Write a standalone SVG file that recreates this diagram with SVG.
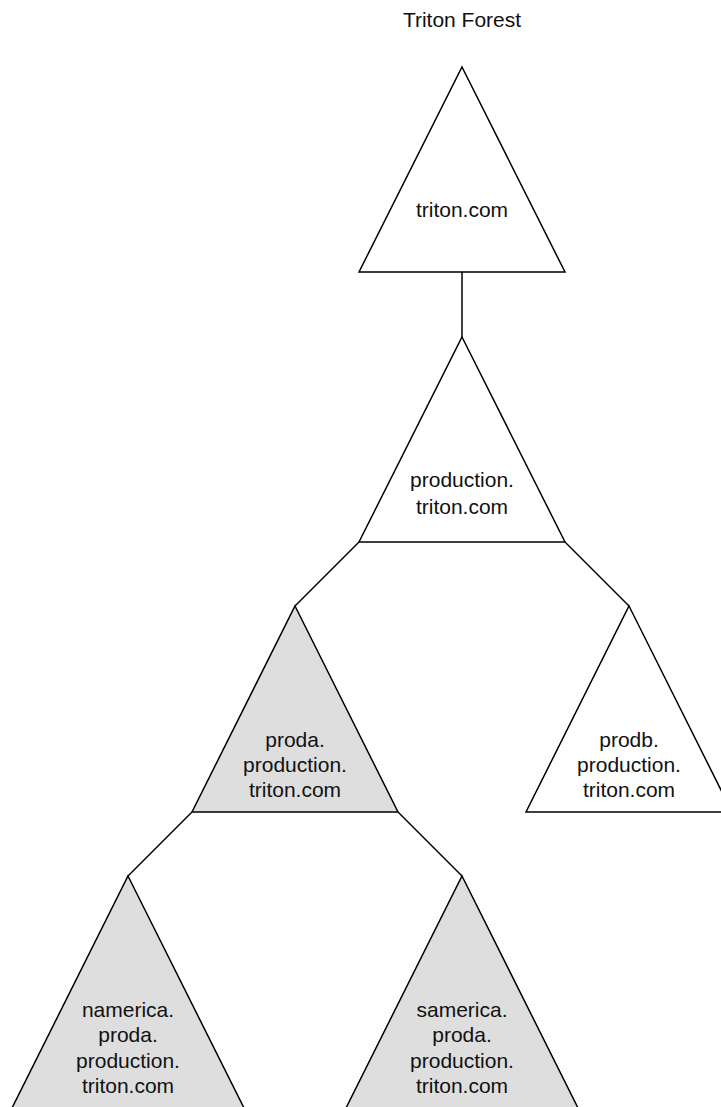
<svg xmlns="http://www.w3.org/2000/svg" width="721" height="1107" viewBox="0 0 721 1107">
<style>
.tri{stroke:#000;stroke-width:1.5;stroke-linejoin:miter}
.w{fill:#fff}
.g{fill:#dedede}
.lbl{font-family:"Liberation Sans",Arial,sans-serif;font-size:21px;fill:#111;text-anchor:middle}
.con{stroke:#000;stroke-width:1.5;fill:none}
</style>
<rect width="721" height="1107" fill="#fff"/>
<text class="lbl" x="462" y="27">Triton Forest</text>
<g id="connectors">
<line class="con" x1="462" y1="272" x2="462" y2="337"/>
<line class="con" x1="359" y1="542" x2="295" y2="606"/>
<line class="con" x1="565" y1="542" x2="629" y2="606"/>
<line class="con" x1="192" y1="812" x2="128" y2="876"/>
<line class="con" x1="398" y1="812" x2="462" y2="876"/>
</g>
<g id="triton">
<polygon class="tri w" points="462,67 565,272 359,272"/>
<text class="lbl" x="462" y="217">triton.com</text>
</g>
<g id="production">
<polygon class="tri w" points="462,337 565,542 359,542"/>
<text class="lbl" x="462" y="487">production.</text>
<text class="lbl" x="462" y="514">triton.com</text>
</g>
<g id="proda">
<polygon class="tri g" points="295,606 398,812 192,812"/>
<text class="lbl" x="295" y="747">proda.</text>
<text class="lbl" x="295" y="772">production.</text>
<text class="lbl" x="295" y="797">triton.com</text>
</g>
<g id="prodb">
<polygon class="tri w" points="629,606 732,812 526,812"/>
<text class="lbl" x="629" y="747">prodb.</text>
<text class="lbl" x="629" y="772">production.</text>
<text class="lbl" x="629" y="797">triton.com</text>
</g>
<g id="namerica">
<polygon class="tri g" points="128,876 245,1110 11,1110"/>
<text class="lbl" x="128" y="1017">namerica.</text>
<text class="lbl" x="128" y="1042">proda.</text>
<text class="lbl" x="128" y="1068">production.</text>
<text class="lbl" x="128" y="1093">triton.com</text>
</g>
<g id="samerica">
<polygon class="tri g" points="462,876 579,1110 345,1110"/>
<text class="lbl" x="462" y="1017">samerica.</text>
<text class="lbl" x="462" y="1042">proda.</text>
<text class="lbl" x="462" y="1068">production.</text>
<text class="lbl" x="462" y="1093">triton.com</text>
</g>
</svg>
